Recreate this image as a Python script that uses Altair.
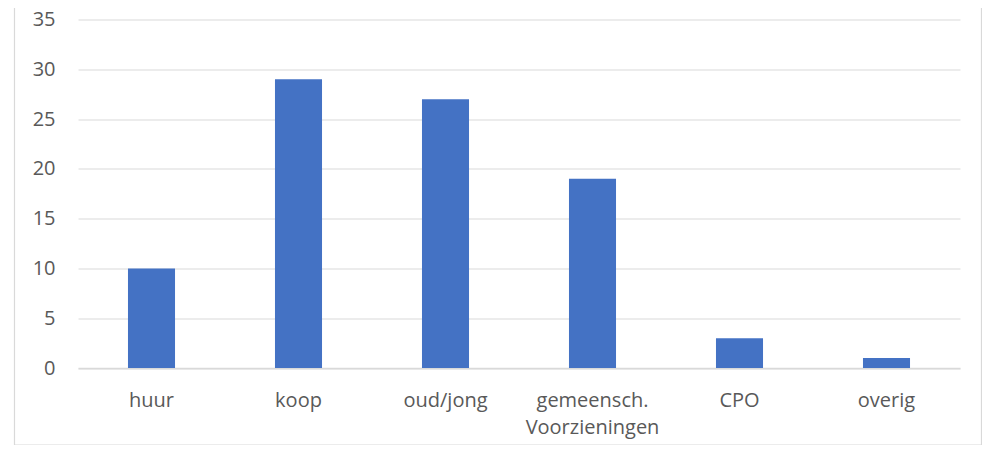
import altair as alt
import pandas as pd

categories = ["huur", "koop", "oud/jong", "gemeensch. Voorzieningen", "CPO", "overig"]
values = [10, 29, 27, 19, 3, 1]
y_ticks = [0, 5, 10, 15, 20, 25, 30, 35]

df = pd.DataFrame({"cat": categories, "val": values})

FONT = "Open Sans"
LABEL_COLOR = "#595959"
GRID = "#d9d9d9"

bars = alt.Chart(df).mark_bar(color="#4472C4").encode(
    x=alt.X(
        "cat:N",
        sort=categories,
        scale=alt.Scale(paddingInner=0.68, paddingOuter=0.34),
        axis=alt.Axis(
            title=None,
            labelAngle=0,
            labelFont=FONT,
            labelFontSize=20,
            labelColor=LABEL_COLOR,
            labelPadding=22,
            labelLineHeight=27,
            labelExpr="split(datum.label, ' ')",
            ticks=False,
            domain=True,
            domainColor=GRID,
            domainWidth=1.5,
            grid=False,
        ),
    ),
    y=alt.Y(
        "val:Q",
        scale=alt.Scale(domain=[0, 35], nice=False),
        axis=alt.Axis(
            title=None,
            values=y_ticks,
            labelFont=FONT,
            labelFontSize=20,
            labelColor=LABEL_COLOR,
            labelPadding=23,
            ticks=False,
            domain=False,
            grid=True,
            gridColor=GRID,
            gridWidth=1.2,
        ),
    ),
)

border = alt.Chart(pd.DataFrame({"a": [0]})).mark_rect(
    fill=None, stroke="#d9d9d9", strokeWidth=1.2
).encode(
    x=alt.value(-63.5),
    x2=alt.value(903.5),
    y=alt.value(-40),
    y2=alt.value(425.5),
)

chart = alt.layer(border, bars).properties(
    width=882,
    height=348.5,
    autosize=alt.AutoSizeParams(type="none"),
    padding={"left": 70, "top": 11.5, "right": 22, "bottom": 77},
    background="white",
).configure_view(stroke=None)

chart.save("out.html", embed_options={"renderer": "svg", "actions": False})
